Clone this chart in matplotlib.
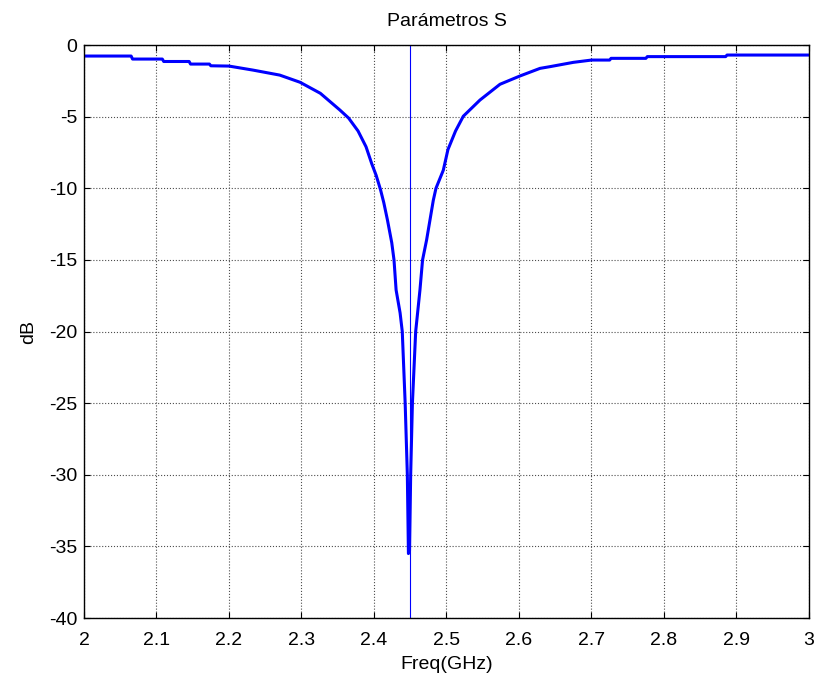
import matplotlib
matplotlib.use("Agg")
import matplotlib.pyplot as plt

plt.rcParams['font.family'] = ['Liberation Sans', 'DejaVu Sans']
plt.rcParams['axes.unicode_minus'] = False

# S11 curve (GHz, dB)
freq = [2.000, 2.065, 2.067, 2.108, 2.110, 2.145, 2.147, 2.173, 2.175, 2.200,
        2.233, 2.270, 2.298, 2.326, 2.353, 2.365, 2.378, 2.389, 2.397, 2.403,
        2.409, 2.4135, 2.4185, 2.4215, 2.4245, 2.4276, 2.4305, 2.436, 2.439,
        2.443, 2.446, 2.4475,
        2.449, 2.4506, 2.453, 2.4575, 2.4634, 2.467, 2.4726, 2.4818, 2.4855,
        2.4956, 2.502, 2.5125, 2.5232, 2.5462, 2.5738, 2.6014, 2.629, 2.6428,
        2.675, 2.700, 2.725, 2.727, 2.775, 2.777, 2.885, 2.887, 3.000]
s11 = [-0.77, -0.77, -0.98, -0.98, -1.15, -1.15, -1.33, -1.33, -1.45, -1.47,
       -1.75, -2.1, -2.6, -3.37, -4.54, -5.1, -6.0, -7.1, -8.3, -9.1,
       -10.1, -11.0, -12.2, -13.0, -13.8, -15.0, -17.1, -18.7, -20.0,
       -25.0, -30.0, -35.5,
       -35.3, -30.0, -25.0, -20.0, -17.1, -15.0, -13.6, -10.84, -10.0,
       -8.74, -7.3, -6.0, -4.97, -3.84, -2.74, -2.16, -1.63, -1.51,
       -1.21, -1.05, -1.05, -0.93, -0.93, -0.81, -0.81, -0.70, -0.70]

marker_freq = 2.45
xticks = [2, 2.1, 2.2, 2.3, 2.4, 2.5, 2.6, 2.7, 2.8, 2.9, 3]
xticklabels = ['2', '2.1', '2.2', '2.3', '2.4', '2.5', '2.6', '2.7', '2.8', '2.9', '3']
yticks = [-40, -35, -30, -25, -20, -15, -10, -5, 0]

fig = plt.figure(figsize=(8.17, 6.79), dpi=100)
ax = fig.add_axes([0.1028, 0.0898, 0.8874, 0.8439])

ax.plot(freq, s11, color='#0000ff', linewidth=2.2)
ax.axvline(marker_freq, color='#0000ff', linewidth=0.8)

ax.set_xlim(2, 3)
ax.set_ylim(-40, 0)
ax.set_xticks(xticks)
ax.set_xticklabels(xticklabels)
ax.set_yticks(yticks)

ax.grid(True, linestyle=':', color='0.3', linewidth=0.8)
ax.tick_params(direction='in', top=True, right=True, length=4, labelsize=14)
ax.tick_params(axis='x', pad=10)
ax.tick_params(axis='y', pad=5)
for sp in ax.spines.values():
    sp.set_linewidth(1.0)

ax.set_title('Parámetros S', fontsize=14, pad=14)
ax.set_xlabel('Freq(GHz)', fontsize=14, labelpad=5)
ax.set_ylabel('dB', fontsize=14, labelpad=8)

fig.savefig('out.png', dpi=100)
